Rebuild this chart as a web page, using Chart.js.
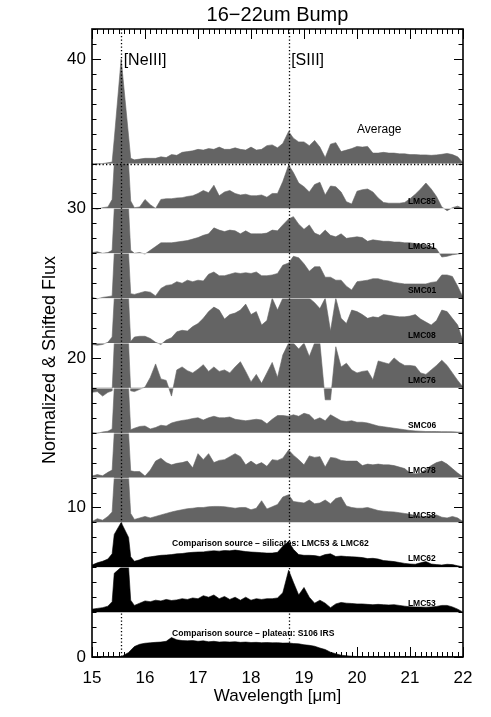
<!DOCTYPE html>
<html>
<head>
<meta charset="utf-8">
<script src="https://cdn.jsdelivr.net/npm/chart.js@4/dist/chart.umd.min.js"></script>
<style>
html, body { margin: 0; padding: 0; background: #fff; }
</style>
</head>
<body>
<canvas id="chart" width="491" height="717"></canvas>
<script>
// 16-22um bump: stacked, normalized spectra (values above each panel baseline)

const wavelengths = [
  15.0, 15.1, 15.2, 15.3, 15.38, 15.42, 15.55, 15.69, 15.73,
  15.8, 15.9, 16.0, 16.1, 16.2, 16.3, 16.4, 16.5, 16.6, 16.7,
  16.8, 16.9, 17.0, 17.1, 17.2, 17.3, 17.4, 17.5, 17.6, 17.7,
  17.8, 17.9, 18.0, 18.1, 18.2, 18.3, 18.4, 18.5, 18.6, 18.71,
  18.8, 18.9, 19.0, 19.1, 19.2, 19.3, 19.4, 19.5, 19.6, 19.7,
  19.8, 19.9, 20.0, 20.1, 20.2, 20.3, 20.4, 20.5, 20.6, 20.7,
  20.8, 20.9, 21.0, 21.1, 21.2, 21.3, 21.4, 21.5, 21.6, 21.7,
  21.8, 21.9, 22.0
];

const average = [
  0.0, -0.05, 0.0, 0.05, 0.1, 1.65, 7.0, 1.85, 0.35,
  0.25, 0.3, 0.35, 0.35, 0.35, 0.45, 0.4, 0.6, 0.55, 0.75,
  0.8, 0.85, 0.95, 0.9, 1.0, 0.95, 1.1, 0.95, 0.95, 1.05,
  0.95, 0.9, 1.1, 0.9, 0.95, 1.2, 1.25, 1.05, 1.35, 2.15,
  1.7, 1.45, 1.45, 1.2, 1.55, 1.1, 0.4, 1.3, 1.4, 0.8,
  0.9, 1.0, 1.15, 1.1, 1.15, 0.7, 0.7, 0.75, 0.7, 0.7,
  0.65, 0.65, 0.6, 0.6, 0.58, 0.58, 0.55, 0.58, 0.62, 0.68,
  0.6, 0.45, 0.05
];
const lmc85 = [
  0.0, -0.05, 0.05, 0.1, 0.6, 3, 3, 3, 0.5,
  0.05, 0.1, 0.6, 0.25, 0.0, 0.6, 0.65, 0.65, 0.7, 0.72,
  0.8, 0.85, 1.0, 1.2, 1.05, 1.55, 0.85, 1.1, 1.2, 1.0,
  0.9, 0.95, 0.85, 0.85, 0.9, 0.75, 1.0, 1.0, 1.8, 2.9,
  2.4, 1.7, 1.45, 1.1, 1.6, 1.75, 0.9, 1.5, 1.45, 1.1,
  0.45, 0.3, 1.15, 1.25, 1.3, 1.1, 0.7, 0.4, 0.35, 0.35,
  0.35, 0.4, 0.65, 0.95, 1.3, 1.7, 1.3, 0.8, 0.1, -0.15,
  0.05, 0.15, 0.0
];
const lmc31 = [
  0.05, 0.1, 0.0, 0.05, 0.2, 3, 3, 3, 0.2,
  0.0, 0.05, -0.05, 0.2, 0.45, 0.7, 0.7, 0.7, 0.75, 0.8,
  0.85, 0.95, 1.05, 1.2, 1.3, 1.7, 1.55, 1.45, 1.55, 1.5,
  1.3, 1.5, 1.3, 1.3, 1.3, 1.35, 1.55, 1.5, 1.9, 2.3,
  2.45, 1.95, 1.6, 1.9, 1.35, 1.2, 1.55, 1.2, 1.1, 1.3,
  1.0, 1.05, 1.1, 1.05, 0.8, 0.9, 0.85, 0.8, 0.8, 0.75,
  0.75, 0.7, 0.7, 0.65, 0.6, 0.55, 0.45, 0.3, -0.25, -0.2,
  -0.1, -0.05, 0.0
];
const smc01 = [
  0.05, -0.05, 0.05, 0.1, 0.15, 3, 3, 3, 0.3,
  0.25, 0.35, 0.45, 0.4, 0.15, 0.65, 0.85, 0.9, 1.1, 1.0,
  1.2, 1.1, 1.2, 1.15, 1.6, 1.75, 1.5, 1.5, 1.6, 1.7,
  1.65, 1.7, 1.65, 1.75, 1.5, 1.5, 1.55, 1.65, 2.2, 2.35,
  2.8, 2.7, 2.3, 1.8, 2.1, 2.1, 1.4, 1.4, 1.2, 1.2,
  0.8, 0.55, 1.1, 1.15, 1.2, 1.3, 1.3, 1.2, 1.15, 1.05,
  1.0, 0.95, 0.95, 0.95, 0.95, 0.95, 1.05, 1.1, 1.55, 1.55,
  1.45, 0.8, 0.05
];
const lmc08 = [
  -0.1, -0.15, -0.1, 0.05, 0.4, 3, 3, 3, 0.1,
  0.4, 0.45, 0.45, 0.3, 0.05, -0.1, 0.2, 0.35, 0.75, 0.85,
  0.8, 1.1, 1.3, 1.65, 2.1, 2.4, 2.2, 1.6, 1.9, 2.0,
  2.2, 2.6, 1.9, 2.1, 1.2, 1.5, 3.0, 2.2, 3.0, 3.0,
  3.0, 3.0, 3.0, 3.0, 2.7, 2.3, 3.0, 0.8, 3.0, 1.65,
  1.3, 2.2, 2.1, 1.9, 1.65, 1.75, 1.7, 1.9, 1.85, 1.8,
  1.75, 1.75, 1.8, 1.9, 1.6, 1.4, 1.2, 1.5, 2.2, 2.1,
  1.65, 1.2, 0.1
];
const lmc76 = [
  -0.3, -0.25, -0.55, -0.3, -0.2, 3, 3, 3, -0.2,
  -0.25, -0.1, 0.05, 0.7, 1.6, 0.6, 0.5, -0.55, 1.2, 1.4,
  1.15, 1.0, 1.25, 1.55, 1.1, 1.4, 1.1, 1.2, 1.0, 1.4,
  1.75, 1.1, 0.4, 0.9, 0.3, 1.0, 1.7, 0.7, 2.2, 3.0,
  3.0, 2.6, 3.0, 2.1, 3.0, 3.0, -0.8, -0.8, 2.75, 1.4,
  1.65, 1.2, 1.0, 1.1, 1.15, 0.55, 1.8, 1.7, 1.6, 2.0,
  1.7, 1.5, 1.5, 1.45, 1.0, 0.9, 1.2, 1.5, 1.85, 1.5,
  1.0, 0.5, 0.05
];
const smc06 = [
  0.0, -0.05, 0.05, 0.1, 0.25, 3, 3, 3, 0.2,
  0.3, 0.42, 0.45, 0.25, 0.35, 0.5, 0.45, 0.65, 0.75, 0.82,
  0.87, 0.95, 1.0, 0.85, 1.0, 1.1, 1.0, 1.0, 1.05, 0.9,
  0.85, 0.8, 0.85, 0.9, 0.85, 0.6, 0.9, 1.15, 1.15, 1.1,
  1.2, 1.1, 1.3, 1.2, 0.85, 1.0, 0.8, 1.2, 1.0, 0.8,
  0.75, 0.8, 0.7, 0.7, 0.65, 0.55, 0.45, 0.4, 0.35, 0.3,
  0.25, 0.2, 0.15, 0.12, 0.1, 0.08, 0.08, 0.08, 0.07, 0.07,
  0.06, 0.04, 0.03
];
const lmc78 = [
  0.1, 0.2, 0.12, 0.35, 0.5, 3, 3, 3, 0.45,
  0.4, 0.4, 0.1, 0.5, 1.1, 1.3, 1.0, 0.85, 0.95, 1.0,
  1.1, 0.65, 1.6, 1.2, 1.6, 1.0, 1.15, 1.2, 1.4, 1.6,
  1.4, 0.85, 1.1, 0.85, 1.0, 0.75, 1.2, 1.15, 1.3, 1.85,
  1.5, 1.2, 0.85, 1.45, 1.35, 1.4, 0.7, 1.35, 1.3, 1.15,
  1.1, 1.1, 1.1, 0.8, 0.9, 0.85, 0.9, 0.85, 0.85, 0.8,
  0.7, 0.6, 0.3, 0.25, 0.3, 0.55, 0.8, 1.0, 1.1, 0.9,
  0.6, 0.3, 0.05
];
const lmc58 = [
  0.05, 0.25, 0.15, 0.4, 0.7, 3, 3, 3, 0.6,
  0.2, 0.3, 0.4, 0.3, 0.4, 0.5, 0.6, 0.7, 0.78, 0.85,
  0.92, 0.95, 1.0, 1.0, 1.05, 1.07, 1.07, 1.05, 1.0, 0.95,
  1.0, 1.0, 0.85, 0.95, 1.45, 0.9, 1.05, 1.2, 1.7, 1.85,
  1.4, 1.35, 1.3, 1.5, 1.25, 1.3, 1.5, 1.25, 1.6, 1.7,
  1.1, 1.0, 0.95, 0.95, 1.0, 0.9, 0.8, 0.75, 0.72, 0.7,
  0.65, 0.6, 0.55, 0.45, 0.4, 0.4, 0.45, 0.5, 0.35, 0.3,
  0.4, 0.3, 0.05
];
const lmc62 = [
  0.15, 0.3, 0.4, 0.55, 0.9, 2.2, 3.0, 2.0, 0.7,
  0.4, 0.5, 0.65, 0.7, 0.75, 0.8, 0.82, 0.85, 0.9, 0.92,
  0.97, 1.0, 1.02, 1.03, 1.08, 1.1, 1.08, 1.12, 1.1, 1.15,
  1.1, 1.05, 1.02, 1.0, 0.98, 0.95, 0.95, 1.0, 1.4, 1.72,
  1.2, 0.85, 0.8, 0.8, 0.78, 0.72, 0.85, 0.9, 0.72, 0.75,
  0.72, 0.7, 0.68, 0.65, 0.58, 0.6, 0.55, 0.45, 0.42, 0.38,
  0.32, 0.26, 0.22, 0.2, 0.3, 0.38, 0.22, 0.18, 0.15, 0.2,
  0.18, 0.1, 0.03
];
const lmc53 = [
  0.2, 0.25, 0.3, 0.4, 0.7, 2.6, 3, 3, 0.8,
  0.45, 0.6, 0.75, 0.7, 0.8, 0.75, 0.85, 0.78, 0.82, 0.9,
  0.85, 0.95, 0.9, 1.1, 1.0, 1.15, 0.9, 1.05, 0.85, 1.0,
  0.8, 1.0, 0.8, 0.9, 0.85, 0.9, 0.9, 0.95, 1.3, 2.8,
  2.0, 1.15, 1.65, 1.0, 0.6, 0.8, 0.6, 0.3, 0.55, 0.65,
  0.6, 0.58, 0.55, 0.55, 0.52, 0.5, 0.52, 0.5, 0.48, 0.5,
  0.45, 0.4, 0.36, 0.35, 0.34, 0.33, 0.35, 0.38, 0.45, 0.45,
  0.35, 0.2, 0.0
];
const s106 = [
  0.02, 0.02, 0.03, 0.02, 0.03, 0.03, 0.02, 0.3, 0.45,
  0.7, 0.85, 0.92, 0.95, 0.98, 1.0, 1.05, 1.3, 1.15, 1.1,
  1.08, 1.1, 1.05, 1.08, 1.02, 1.05, 1.0, 1.02, 1.0, 1.02,
  0.98, 1.0, 0.97, 0.98, 0.96, 0.97, 0.95, 0.96, 0.93, 0.94,
  0.9, 0.88, 0.82, 0.78, 0.72, 0.6, 0.5, 0.32, 0.22, 0.12,
  0.08, 0.05, 0.03, 0.03, 0.02, 0.04, 0.02, 0.03, 0.02, 0.03,
  0.02, 0.03, 0.02, 0.03, 0.02, 0.03, 0.02, 0.03, 0.02, 0.03,
  0.02, 0.03, 0.02
];

const spectra = [average, lmc85, lmc31, smc01, lmc08, lmc76, smc06, lmc78, lmc58, lmc62, lmc53, s106];
const names = ['Average', 'LMC85', 'LMC31', 'SMC01', 'LMC08', 'LMC76', 'SMC06', 'LMC78', 'LMC58', 'LMC62', 'LMC53', 'S106 IRS'];
const offsets = [33, 30, 27, 24, 21, 18, 15, 12, 9, 6, 3, 0];

const xMajorTicks = [15, 16, 17, 18, 19, 20, 21, 22];
const yMajorTicks = [0, 10, 20, 30, 40];
const lineMarks = [15.55, 18.71];
const lineNames = ['[NeIII]', '[SIII]'];

const GREY = '#646464';
const FONT = "'Liberation Sans', Arial, Helvetica, sans-serif";

const datasets = spectra.map((vals, i) => {
    const color = i >= 9 ? '#000000' : GREY;
    return {
        label: names[i],
        data: wavelengths.map((w, k) => ({ x: w, y: vals[k] + offsets[i] })),
        borderColor: color,
        backgroundColor: color,
        borderWidth: 0.6,
        pointRadius: 0,
        tension: 0,
        fill: { value: offsets[i] }
    };
});

// frame, inward ticks, dotted line markers and text labels (IDL style)
const decorations = {
    id: 'decorations',
    afterDatasetsDraw(chart) {
        const { ctx, chartArea: a, scales: { x, y } } = chart;
        ctx.save();

        // seams between stacked panels
        ctx.strokeStyle = 'rgba(255,255,255,0.5)';
        ctx.lineWidth = 1;
        offsets.slice(1, 10).forEach(o => {
            const py = Math.round(y.getPixelForValue(o)) + 0.5;
            ctx.beginPath();
            ctx.moveTo(a.left, py);
            ctx.lineTo(a.right, py);
            ctx.stroke();
        });

        // dotted markers
        ctx.strokeStyle = '#000';
        ctx.lineWidth = 1.3;
        ctx.setLineDash([1.3, 2.2]);
        lineMarks.forEach(w => {
            const px = Math.round(x.getPixelForValue(w)) + 0.5;
            ctx.beginPath();
            ctx.moveTo(px, a.top);
            ctx.lineTo(px, a.bottom);
            ctx.stroke();
        });
        const avgY = Math.round(y.getPixelForValue(offsets[0])) + 0.5;
        ctx.beginPath();
        ctx.moveTo(a.left, avgY);
        ctx.lineTo(a.right, avgY);
        ctx.stroke();
        ctx.setLineDash([]);

        // frame
        ctx.lineWidth = 1.6;
        ctx.strokeRect(a.left, a.top, a.right - a.left, a.bottom - a.top);

        // ticks
        ctx.lineWidth = 1;
        ctx.beginPath();
        for (let i = 0; i <= 70; i++) {
            const px = Math.round(x.getPixelForValue(15 + i / 10)) + 0.5;
            const len = i % 10 === 0 ? 10 : 5;
            ctx.moveTo(px, a.bottom); ctx.lineTo(px, a.bottom - len);
            ctx.moveTo(px, a.top); ctx.lineTo(px, a.top + len);
        }
        for (let v = 0; v <= 42; v++) {
            const py = Math.round(y.getPixelForValue(v)) + 0.5;
            const len = v % 10 === 0 ? 9 : 4.5;
            ctx.moveTo(a.left, py); ctx.lineTo(a.left + len, py);
            ctx.moveTo(a.right, py); ctx.lineTo(a.right - len, py);
        }
        ctx.stroke();

        // text
        ctx.fillStyle = '#000';
        ctx.textAlign = 'left';
        ctx.textBaseline = 'alphabetic';
        ctx.font = '16px ' + FONT;
        lineMarks.forEach((w, i) => {
            ctx.fillText(lineNames[i], x.getPixelForValue(w) + 2.5, y.getPixelForValue(39.6));
        });

        ctx.font = '12px ' + FONT;
        ctx.fillText(names[0], x.getPixelForValue(20.0), y.getPixelForValue(35.07));

        ctx.font = 'bold 8.5px ' + FONT;
        names.slice(1, 11).forEach((n, i) => {
            const lift = i >= 8 ? 0.42 : 0.32;
            ctx.fillText(n, x.getPixelForValue(20.96), y.getPixelForValue(offsets[i + 1] + lift));
        });

        ctx.font = 'bold 8.6px ' + FONT;
        ctx.fillText('Comparison source \u2013 silicates: LMC53 & LMC62', x.getPixelForValue(16.51), y.getPixelForValue(7.42));
        ctx.fillText('Comparison source \u2013 plateau: S106 IRS', x.getPixelForValue(16.51), y.getPixelForValue(1.4));

        ctx.font = '20px ' + FONT;
        ctx.textAlign = 'center';
        ctx.textBaseline = 'middle';
        ctx.fillText('16\u221222um Bump', (a.left + a.right) / 2, 15);

        // y axis title
        ctx.font = '18px ' + FONT;
        ctx.translate(50, 360);
        ctx.rotate(-Math.PI / 2);
        ctx.fillText('Normalized & Shifted Flux', 0, 0);

        ctx.restore();
    }
};

new Chart(document.getElementById('chart'), {
    type: 'line',
    data: { datasets },
    plugins: [decorations],
    options: {
        responsive: false,
        animation: false,
        layout: { padding: { top: 29, right: 28, left: 0, bottom: 0 } },
        plugins: {
            legend: { display: false },
            tooltip: { enabled: false }
        },
        scales: {
            x: {
                type: 'linear',
                min: 15,
                max: 22,
                afterBuildTicks: s => { s.ticks = xMajorTicks.map(v => ({ value: v })); },
                afterFit: s => { s.height = 60; },
                grid: { display: false, drawTicks: false },
                border: { display: false },
                ticks: { color: '#000', font: { family: FONT, size: 17 }, padding: 11, maxRotation: 0, autoSkip: false },
                title: {
                    display: true, text: 'Wavelength [\u03bcm]', color: '#000',
                    font: { family: FONT, size: 17 }, padding: { top: 0, bottom: 10 }
                }
            },
            y: {
                min: 0,
                max: 42,
                afterBuildTicks: s => { s.ticks = yMajorTicks.map(v => ({ value: v })); },
                afterFit: s => { s.width = 92; },
                grid: { display: false, drawTicks: false },
                border: { display: false },
                ticks: { color: '#000', font: { family: FONT, size: 17 }, padding: 6 }
            }
        }
    }
});
</script>
</body>
</html>
